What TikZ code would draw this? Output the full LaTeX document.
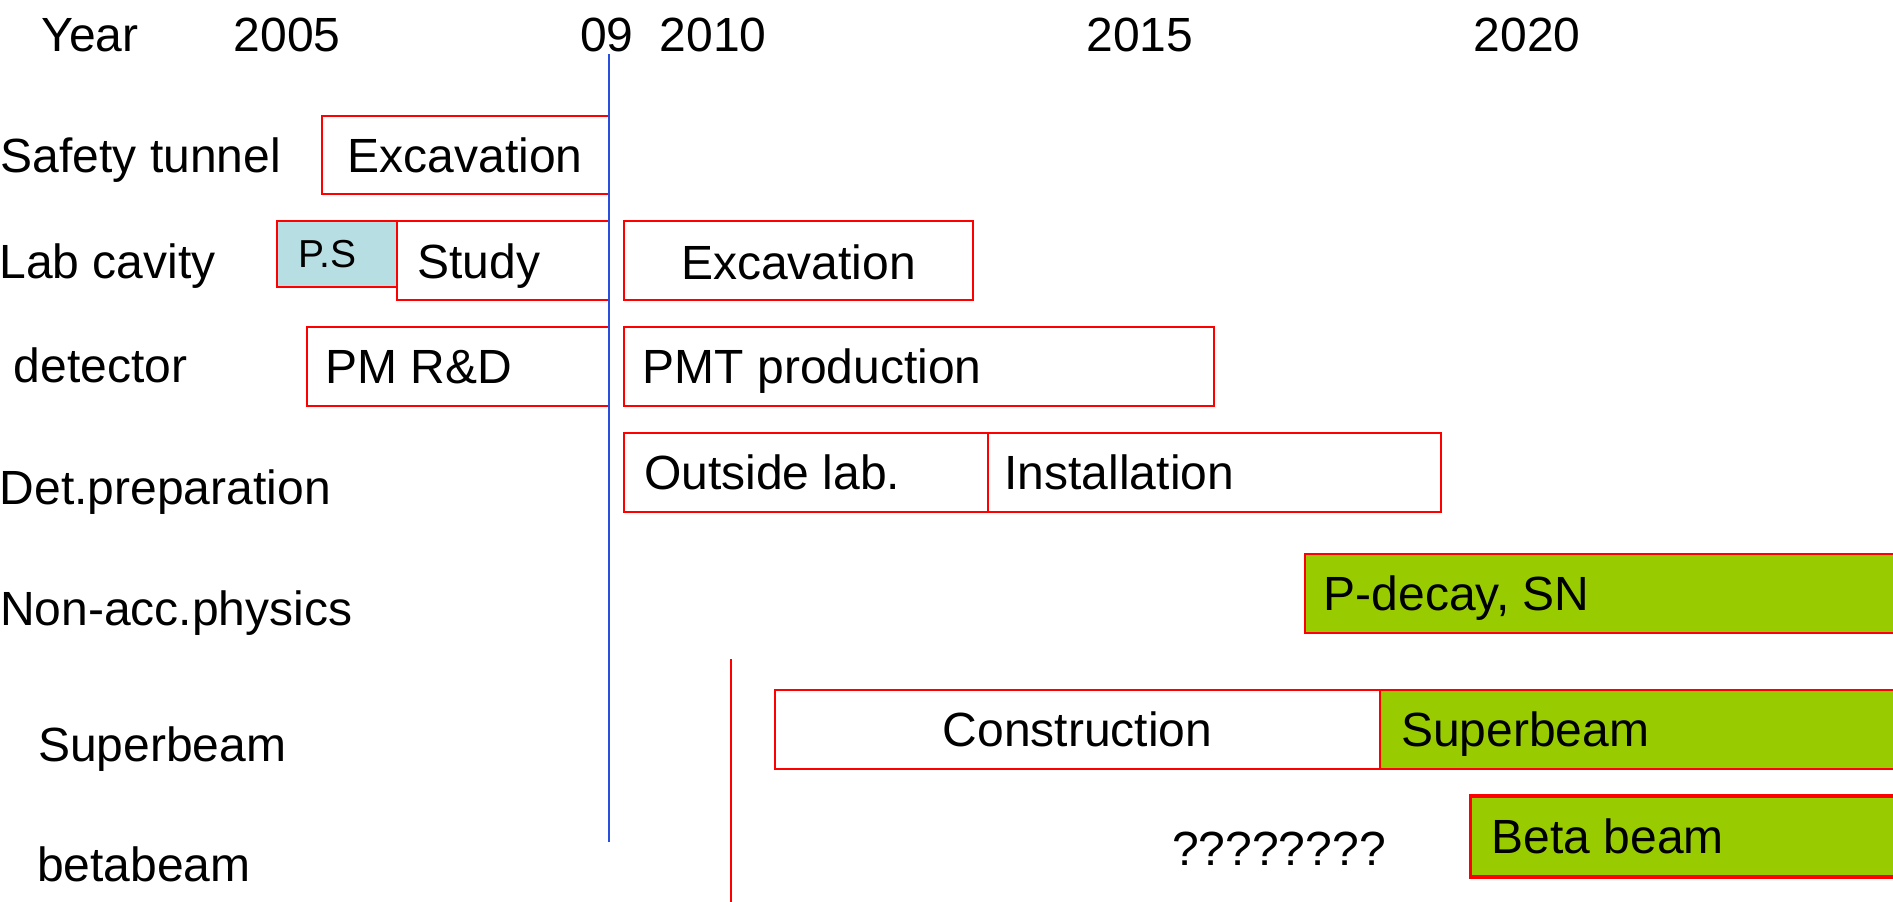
\documentclass[tikz,border=0pt]{standalone}
\usepackage{fontspec}
\setmainfont{Liberation Sans}
\definecolor{barred}{RGB}{255,0,0}
\definecolor{bargreen}{RGB}{153,204,0}
\definecolor{psblue}{RGB}{183,222,226}
\definecolor{nowblue}{RGB}{40,80,220}
\begin{document}
\begin{tikzpicture}[x=0.5pt,y=-0.5pt,
  lbl/.style={anchor=base west,inner sep=0pt,font=\fontsize{24}{28}\selectfont},
  lblc/.style={lbl,anchor=base},
  small/.style={anchor=base west,inner sep=0pt,font=\fontsize{19.5}{23}\selectfont},
  bar/.style={draw=barred,line width=1pt},
  greenbar/.style={bar,fill=bargreen},
  psbar/.style={bar,fill=psblue},
  thickbar/.style={draw=barred,line width=1.75pt,fill=bargreen},
  nowline/.style={draw=nowblue,line width=0.8pt},
  markline/.style={draw=barred,line width=0.9pt}]
\useasboundingbox (0,0) rectangle (1893,901);
\clip (0,0) rectangle (1893,901);

% year header
\node[lbl] (year) at (41,51) {Year};
\node[lbl] (y2005) at (233.3,51) {2005};
\node[lbl] (y09) at (579.6,51) {09};
\node[lbl] (y2010) at (659.3,51) {2010};
\node[lbl] (y2015) at (1086.2,51) {2015};
\node[lbl] (y2020) at (1473.3,51) {2020};

% row labels
\node[lbl] (lSafety) at (0.3,172.7) {Safety tunnel};
\node[lbl] (lLab) at (-1,278) {Lab cavity};
\node[lbl] (lDet) at (13.4,382.7) {detector};
\node[lbl] (lPrep) at (-0.5,504) {Det.preparation};
\node[lbl] (lNon) at (-0.3,625) {Non-acc.physics};
\node[lbl] (lSuper) at (37.6,761) {Superbeam};
\node[lbl] (lBeta) at (36.6,881.7) {betabeam};

% bars
\draw[bar] (322,115.7) rectangle (609,194);
\draw[psbar] (276.5,221) rectangle (397,287);
\draw[bar] (397,221) rectangle (609,300);
\draw[bar] (624,221) rectangle (972.6,300);
\draw[bar] (307,326.7) rectangle (609,406);
\draw[bar] (624,326.7) rectangle (1214,406);
\draw[bar] (624,432.7) rectangle (987.5,511.7);
\draw[bar] (987.5,432.7) rectangle (1441,511.7);
\draw[greenbar] (1304.7,554) rectangle (1900,632.7);
\draw[bar] (775,690) rectangle (1380,769);
\draw[greenbar] (1380,690) rectangle (1900,769);
\draw[thickbar] (1470.4,796) rectangle (1900,877);

% bar texts
\node[lblc] (tExc1) at (465.3,172.7) {Excavation};
\node[small] (tPS) at (298.5,267.3) {P.S};
\node[lbl] (tStudy) at (417.2,278) {Study};
\node[lblc] (tExc2) at (798.6,279) {Excavation};
\node[lbl] (tPMRD) at (324.7,383) {PM R\&D};
\node[lbl] (tPMT) at (642.3,383) {PMT production};
\node[lbl] (tOut) at (643.7,489) {Outside lab.};
\node[lbl] (tInst) at (1004.2,489) {Installation};
\node[lbl] (tPdec) at (1323.3,610.7) {P-decay, SN};
\node[lblc] (tCons) at (1077.5,746.7) {Construction};
\node[lbl] (tSB) at (1400.8,746.7) {Superbeam};
\node[lbl] (tQ) at (1171.8,865) {????????};
\node[lbl] (tBB) at (1491.4,853) {Beta beam};

% vertical lines
\coordinate (nowTop) at (609,54.3);
\coordinate (nowBot) at (609,841.7);
\draw[nowline] (nowTop) -- (nowBot);
\coordinate (mTop) at (730.6,659);
\coordinate (mBot) at (730.6,905);
\draw[markline] (mTop) -- (mBot);
\end{tikzpicture}
\end{document}
